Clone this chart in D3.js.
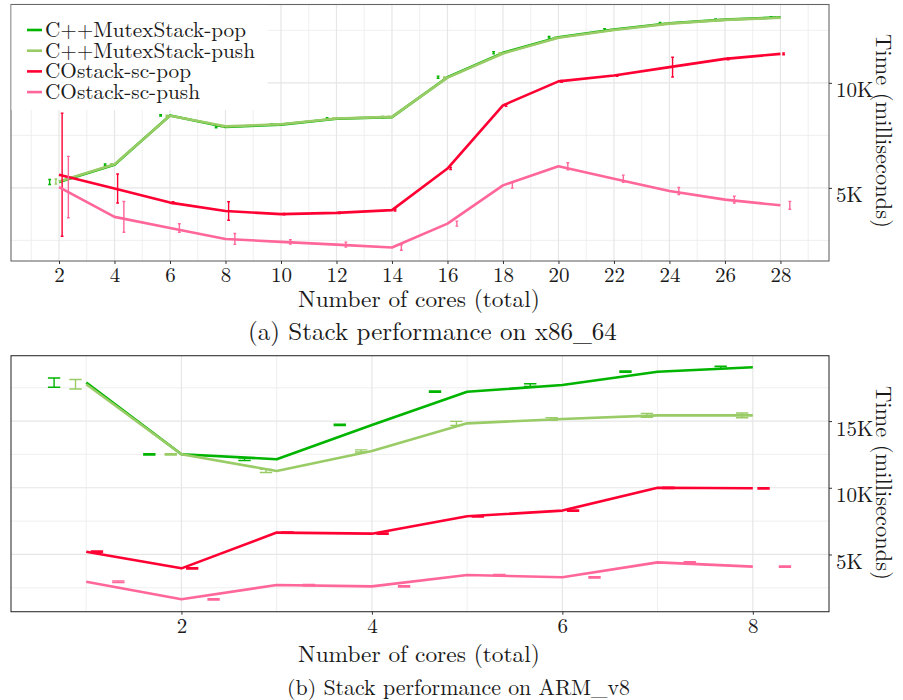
<!DOCTYPE html>
<html>
<head>
<meta charset="utf-8">
<script src="https://cdn.jsdelivr.net/npm/d3@7"></script>
<style>
  body { margin: 0; background: #fff; }
</style>
</head>
<body>
<div id="chart"></div>
<script>
// series names + colours
var seriesNames = ["C++MutexStack-pop", "C++MutexStack-push", "COstack-sc-pop", "COstack-sc-push"];
var seriesColors = ["#00b400", "#99cc66", "#ff0033", "#ff6699"];

// (a) x86_64, time in K milliseconds
var x86Cores = [2, 4, 6, 8, 10, 12, 14, 16, 18, 20, 22, 24, 26, 28];
var x86MutexPop  = [5.28, 6.10, 8.45, 7.90, 8.01, 8.29, 8.37, 10.27, 11.43, 12.17, 12.54, 12.84, 13.01, 13.12];
var x86MutexPush = [5.30, 6.12, 8.43, 7.93, 8.03, 8.30, 8.38, 10.25, 11.40, 12.15, 12.52, 12.82, 13.00, 13.10];
var x86ScPop     = [5.63, 4.97, 4.30, 3.90, 3.75, 3.81, 3.94, 5.92, 8.93, 10.07, 10.35, 10.75, 11.14, 11.38];
var x86ScPush    = [5.04, 3.62, 3.09, 2.57, 2.43, 2.30, 2.16, 3.30, 5.12, 6.03, 5.44, 4.85, 4.44, 4.17];
var x86MutexPopErr  = [0.12, 0.04, 0.03, 0.04, 0.03, 0.05, 0.03, 0.05, 0.05, 0.04, 0.04, 0.03, 0.03, 0.03];
var x86MutexPushErr = [0.12, 0.03, 0.03, 0.03, 0.03, 0.03, 0.03, 0.03, 0.03, 0.03, 0.03, 0.03, 0.03, 0.03];
var x86ScPopErr     = [2.93, 0.69, 0.04, 0.44, 0.03, 0.03, 0.04, 0.05, 0.05, 0.04, 0.04, 0.47, 0.04, 0.04];
var x86ScPushErr    = [1.46, 0.73, 0.20, 0.26, 0.10, 0.12, 0.13, 0.12, 0.13, 0.17, 0.17, 0.17, 0.16, 0.19];
var x86XTicks = [2, 4, 6, 8, 10, 12, 14, 16, 18, 20, 22, 24, 26, 28];
var x86YTicks = [5, 10];

// (b) ARM_v8
var armCores = [1, 2, 3, 4, 5, 6, 7, 8];
var armMutexPop  = [17.88, 12.51, 12.14, 14.71, 17.20, 17.70, 18.70, 19.03];
var armMutexPush = [17.76, 12.51, 11.26, 12.76, 14.83, 15.16, 15.43, 15.43];
var armScPop     = [5.21, 3.96, 6.64, 6.56, 7.86, 8.29, 10.00, 9.96];
var armScPush    = [2.96, 1.64, 2.71, 2.61, 3.46, 3.29, 4.41, 4.09];
var armMutexPopErr  = [0.35, 0.05, 0.10, 0.05, 0.05, 0.10, 0.05, 0.08];
var armMutexPushErr = [0.36, 0.05, 0.12, 0.08, 0.15, 0.10, 0.15, 0.18];
var armScPopErr     = [0.05, 0.05, 0.05, 0.05, 0.05, 0.05, 0.05, 0.05];
var armScPushErr    = [0.06, 0.05, 0.05, 0.05, 0.05, 0.05, 0.05, 0.05];
var armXTicks = [2, 4, 6, 8];
var armYTicks = [5, 10, 15];

var W = 903, H = 700;
var FONT = "'Latin Modern Roman'";
var INK = "#1a1a1a";
var dodge = [-0.3375, -0.1125, 0.1125, 0.3375];

var svg = d3.select("#chart").append("svg")
	.attr("width", W)
	.attr("height", H);

function fitWidth(sel, width) {
	var base = +sel.attr("font-size");
	var len = sel.node().getComputedTextLength();
	sel.attr("font-size", (base * width / len).toFixed(2));
	return sel;
}

function label(parent, size) {
	return parent.append("text")
		.style("font-family", FONT)
		.attr("font-size", size)
		.attr("fill", INK);
}

function panel(cfg) {
	var x = d3.scaleLinear().domain(cfg.xDomain).range([cfg.left, cfg.right]);
	var y = d3.scaleLinear().domain(cfg.yDomain).range([cfg.bottom, cfg.top]);
	var g = svg.append("g");

	// grid
	var grid = g.append("g");
	grid.selectAll(".xmin").data(cfg.xMinor).enter().append("line")
		.attr("x1", function(d) { return x(d); }).attr("x2", function(d) { return x(d); })
		.attr("y1", cfg.top).attr("y2", cfg.bottom)
		.attr("stroke", "#ebebeb").attr("stroke-width", 0.8);
	grid.selectAll(".ymin").data(cfg.yMinor).enter().append("line")
		.attr("y1", function(d) { return y(d); }).attr("y2", function(d) { return y(d); })
		.attr("x1", cfg.left).attr("x2", cfg.right)
		.attr("stroke", "#ebebeb").attr("stroke-width", 0.8);
	grid.selectAll(".xmaj").data(cfg.xTicks).enter().append("line")
		.attr("x1", function(d) { return x(d); }).attr("x2", function(d) { return x(d); })
		.attr("y1", cfg.top).attr("y2", cfg.bottom)
		.attr("stroke", "#e6e6e6").attr("stroke-width", 1.2);
	grid.selectAll(".ymaj").data(cfg.yTicks).enter().append("line")
		.attr("y1", function(d) { return y(d); }).attr("y2", function(d) { return y(d); })
		.attr("x1", cfg.left).attr("x2", cfg.right)
		.attr("stroke", "#e6e6e6").attr("stroke-width", 1.2);

	// lines + dodged error bars
	var line = d3.line()
		.x(function(d) { return x(d.x); })
		.y(function(d) { return y(d.v); });
	cfg.series.forEach(function(s, i) {
		var pts = cfg.cores.map(function(c, j) { return { x: c, v: s.values[j], e: s.err[j] }; });
		g.append("path")
			.datum(pts)
			.attr("d", line)
			.attr("fill", "none")
			.attr("stroke", seriesColors[i])
			.attr("stroke-width", 2.6)
			.attr("stroke-linejoin", "round");
		var bars = g.append("g");
		pts.forEach(function(p) {
			var cx = p.x + dodge[i];
			var hw = cfg.cap / 2;
			var path = "M" + x(cx - hw) + "," + y(p.v + p.e) + "H" + x(cx + hw) +
				"M" + x(cx) + "," + y(p.v + p.e) + "V" + y(p.v - p.e) +
				"M" + x(cx - hw) + "," + y(p.v - p.e) + "H" + x(cx + hw);
			bars.append("path")
				.attr("d", path)
				.attr("fill", "none")
				.attr("stroke", seriesColors[i])
				.attr("stroke-width", 1.4);
		});
	});

	// border
	g.append("rect")
		.attr("x", cfg.left).attr("y", cfg.top)
		.attr("width", cfg.right - cfg.left).attr("height", cfg.bottom - cfg.top)
		.attr("fill", "none").attr("stroke", cfg.border).attr("stroke-width", 1.1);

	// axes
	var xAxis = g.append("g")
		.attr("transform", "translate(0," + cfg.bottom + ")")
		.call(d3.axisBottom(x).tickValues(cfg.xTicks).tickSize(3).tickPadding(6));
	xAxis.select(".domain").remove();
	xAxis.selectAll(".tick line").attr("stroke", "#333");
	xAxis.selectAll(".tick text")
		.style("font-family", FONT)
		.attr("font-size", 21).attr("fill", INK)
		.attr("dy", null).attr("y", 21);

	var yAxis = g.append("g")
		.attr("transform", "translate(" + cfg.right + ",0)")
		.call(d3.axisRight(y).tickValues(cfg.yTicks).tickSize(3).tickPadding(6)
			.tickFormat(function(d) { return d + "K"; }));
	yAxis.select(".domain").remove();
	yAxis.selectAll(".tick line").attr("stroke", "#333");
	yAxis.selectAll(".tick text")
		.style("font-family", FONT)
		.attr("font-size", 21).attr("fill", INK)
		.attr("dy", 14).attr("x", 7);

	// titles
	var yt = label(g, 21)
		.attr("transform", "translate(" + 876 + "," + cfg.yTitleMid + ") rotate(90)")
		.attr("text-anchor", "middle")
		.text("Time (milliseconds)");
	fitWidth(yt, 194);
	var xt = label(g, 21)
		.attr("x", 419).attr("y", cfg.xTitleY)
		.attr("text-anchor", "middle")
		.text("Number of cores (total)");
	fitWidth(xt, 242);
	var cap = label(g, 21)
		.attr("x", cfg.captionX).attr("y", cfg.captionY)
		.attr("text-anchor", "start")
		.text(cfg.caption);
	fitWidth(cap, cfg.captionW);
	return g;
}

var panelA = panel({
	left: 11, right: 829, top: 4.5, bottom: 261,
	xDomain: [0.27, 29.75], yDomain: [1.52, 13.73],
	xTicks: x86XTicks, xMinor: [1, 3, 5, 7, 9, 11, 13, 15, 17, 19, 21, 23, 25, 27, 29],
	yTicks: x86YTicks, yMinor: [2.5, 7.5, 12.5],
	cores: x86Cores, cap: 0.1, border: "#666",
	series: [
		{ values: x86MutexPop, err: x86MutexPopErr },
		{ values: x86MutexPush, err: x86MutexPushErr },
		{ values: x86ScPop, err: x86ScPopErr },
		{ values: x86ScPush, err: x86ScPushErr }
	],
	yTitleMid: 131, xTitleY: 307, captionX: 248, captionY: 340, captionW: 369,
	caption: "(a) Stack performance on x86_64"
});

// legend in the top panel
var leg = svg.append("g");
leg.append("rect")
	.attr("x", 11.5).attr("y", 5).attr("width", 256).attr("height", 105)
	.attr("fill", "#fff");
var legendWidths = [201, 210, 146, 155];
seriesNames.forEach(function(name, i) {
	var ly = 30 + i * 20.7;
	leg.append("line")
		.attr("x1", 27).attr("x2", 42).attr("y1", ly).attr("y2", ly)
		.attr("stroke", seriesColors[i]).attr("stroke-width", 2.6);
	var t = label(leg, 20)
		.attr("x", 45).attr("y", ly + 7)
		.text(name);
	fitWidth(t, legendWidths[i]);
});

var panelB = panel({
	left: 11, right: 829, top: 355.7, bottom: 611.7,
	xDomain: [0.21, 8.80], yDomain: [0.71, 19.9],
	xTicks: armXTicks, xMinor: [1, 3, 5, 7],
	yTicks: armYTicks, yMinor: [2.5, 7.5, 12.5, 17.5],
	cores: armCores, cap: 0.13, border: "#333",
	series: [
		{ values: armMutexPop, err: armMutexPopErr },
		{ values: armMutexPush, err: armMutexPushErr },
		{ values: armScPop, err: armScPopErr },
		{ values: armScPush, err: armScPushErr }
	],
	yTitleMid: 483, xTitleY: 662, captionX: 287, captionY: 695, captionW: 343,
	caption: "(b) Stack performance on ARM_v8"
});
</script>
</body>
</html>
